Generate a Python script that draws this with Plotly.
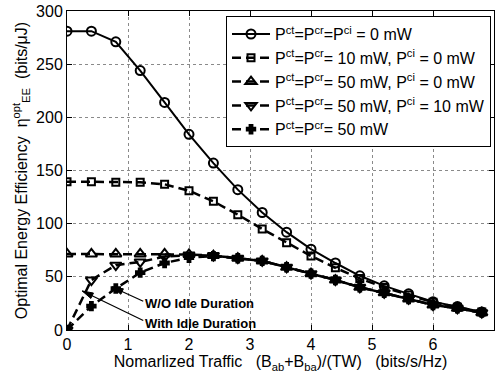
import math
import plotly.graph_objects as go

traffic = [0, 0.4, 0.8, 1.2, 1.6, 2.0, 2.4, 2.8, 3.2, 3.6, 4.0, 4.4, 4.8, 5.2, 5.6, 6.0, 6.4, 6.8]

ee_0mw = [281, 281, 271, 244, 214, 184, 157, 132, 110.5, 92, 76, 63, 51, 41.5, 34, 26.5, 22, 17]
ee_10mw = [139.5, 139.5, 139, 139, 137, 131, 121, 108.5, 95, 82, 69.6, 58.5, 48.5, 40, 33, 26, 21.5, 17]
ee_50mw_ci0 = [71.5, 71.5, 71.5, 71.5, 71.5, 71, 70, 67.5, 65, 59, 53, 47, 40.2, 35, 29.2, 23.5, 20.4, 16.3]
ee_50mw_ci10 = [0, 47, 61, 64, 69, 70.5, 70, 67.5, 65, 59, 53, 47, 40.2, 35, 29.2, 23.5, 20.4, 16.3]
ee_50mw = [0, 22.5, 39, 54, 63, 68, 69.5, 67.5, 65, 59, 53, 47, 40.2, 35, 29.2, 23.5, 20.4, 16.3]

names = [
    "P<sup>ct</sup>=P<sup>cr</sup>=P<sup>ci</sup> = 0 mW",
    "P<sup>ct</sup>=P<sup>cr</sup>= 10 mW, P<sup>ci</sup> = 0 mW",
    "P<sup>ct</sup>=P<sup>cr</sup>= 50 mW, P<sup>ci</sup> = 0 mW",
    "P<sup>ct</sup>=P<sup>cr</sup>= 50 mW, P<sup>ci</sup> = 10 mW",
    "P<sup>ct</sup>=P<sup>cr</sup>= 50 mW",
]

x_ticks = [0, 1, 2, 3, 4, 5, 6, 7]
y_ticks = [0, 50, 100, 150, 200, 250, 300]

# label arrows: tail and tip positions in data coordinates
arrow_labels = ["<b>W/O Idle Duration</b>", "<b>With Idle Duration</b>"]
arrow_tail = [(1.25, 27.0), (1.25, 9.0)]
arrow_tip = [(0.74, 40.5), (0.25, 36.7)]
label_pos = [(1.25, 24.5), (1.25, 6.5)]

FONT = "Liberation Sans, Arial, Helvetica, sans-serif"
DASH = "9px,5px"

fig = go.Figure()
series = [
    (ee_0mw, "circle-open", 9, "solid", 2),
    (ee_10mw, "square-open", 7, DASH, 2.5),
    (ee_50mw_ci0, "triangle-up-open", 10, DASH, 2.5),
    (ee_50mw_ci10, "triangle-down-open", 10, DASH, 2.5),
    (ee_50mw, "cross", 7, DASH, 2.5),
]
for vals, sym, size, dash, lw in series:
    idx = len(fig.data)
    fig.add_trace(go.Scatter(
        x=traffic, y=vals, mode="lines+markers", name=names[idx],
        line=dict(color="black", width=lw, dash=dash),
        marker=dict(symbol=sym, size=size, color="black",
                    line=dict(color="black", width=2)),
    ))

axis_common = dict(
    showline=True, linecolor="black", linewidth=1, mirror="ticks",
    ticks="inside", ticklen=5, tickcolor="black",
    showgrid=True, gridcolor="#8a8a8a", griddash="dot", gridwidth=1,
    zeroline=False, tickfont=dict(size=16, color="black", family=FONT),
)

fig.update_xaxes(
    range=[0, 7], tickvals=x_ticks, ticktext=[str(v) for v in x_ticks],
    title=dict(text="Nomarlized Traffic   (B<sub>ab</sub>+B<sub>ba</sub>)/(TW)   (bits/s/Hz)",
               font=dict(size=16, color="black", family=FONT), standoff=2),
    **axis_common,
)
fig.update_yaxes(
    range=[0, 300], tickvals=y_ticks, ticktext=[str(v) for v in y_ticks],
    title=dict(text="Optimal Energy Efficiency  η<sup>opt</sup><sub>EE</sub>  (bits/μJ)",
               font=dict(size=16, color="black", family=FONT), standoff=4),
    **axis_common,
)

# pixel scale of the plot area (427 px for 7 units, 319 px for 300 units)
PX_X = 427 / 7.0
PX_Y = 319 / 300.0
HEAD_LEN, HEAD_HALF = 11.0, 3.0
for label, (tx, ty), (hx, hy), (lx, ly) in zip(arrow_labels, arrow_tail, arrow_tip, label_pos):
    fig.add_shape(type="line", xref="x", yref="y", x0=tx, y0=ty, x1=hx, y1=hy,
                  line=dict(color="black", width=1.2))
    dxp, dyp = (hx - tx) * PX_X, (hy - ty) * PX_Y
    L = math.hypot(dxp, dyp)
    ux, uy = dxp / L, dyp / L
    bx, by = -ux * HEAD_LEN, -uy * HEAD_LEN
    p1 = (hx + (bx - uy * HEAD_HALF) / PX_X, hy + (by + ux * HEAD_HALF) / PX_Y)
    p2 = (hx + (bx + uy * HEAD_HALF) / PX_X, hy + (by - ux * HEAD_HALF) / PX_Y)
    path = f"M {hx},{hy} L {p1[0]},{p1[1]} L {p2[0]},{p2[1]} Z"
    fig.add_shape(type="path", xref="x", yref="y", path=path,
                  fillcolor="black", line=dict(color="black", width=1))
    fig.add_annotation(x=lx, y=ly, xref="x", yref="y", xanchor="left", yanchor="middle",
                       text=label, showarrow=False,
                       font=dict(size=13, color="black", family=FONT))

fig.update_layout(
    width=496, height=374,
    margin=dict(l=67, r=2, t=11, b=44),
    paper_bgcolor="white", plot_bgcolor="white",
    font=dict(family=FONT, color="black", size=16),
    showlegend=True,
    legend=dict(x=0.993, y=0.984, xanchor="right", yanchor="top",
                bgcolor="white", bordercolor="black", borderwidth=1,
                font=dict(size=16, color="black", family=FONT),
                tracegroupgap=0, itemwidth=38),
)

fig.write_html("out.html")
